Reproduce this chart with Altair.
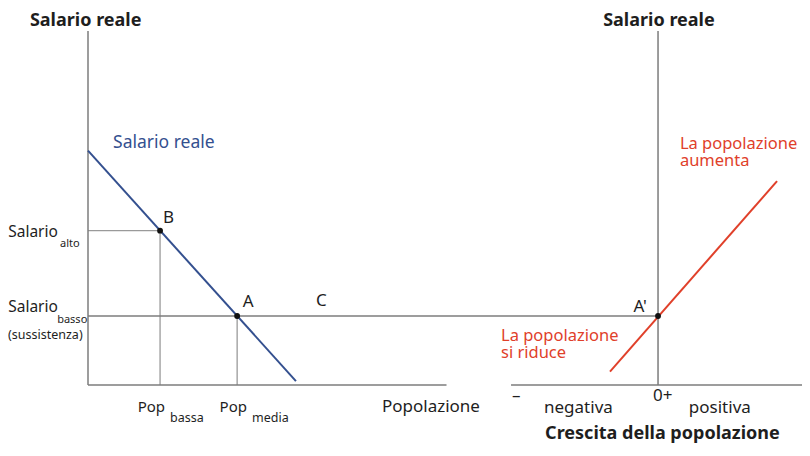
import altair as alt
import pandas as pd

# ---- conceptual units: x = population (left panel) / growth (right panel), y = real wage ----
pop_axis_end = 10.0
growth_origin = 15.9          # where zero growth sits on the shared x scale
growth_axis = [-4.1, 4.1]     # extent of growth axis
wage_axis_top = 10.0

pop_levels = [2.01, 4.16]     # Pop bassa, Pop media
wage_levels = [4.36, 1.95]    # Salario alto, Salario basso
wage_curve_pop = [0.0, 5.80]
wage_curve_wage = [6.62, 0.11]
growth_curve_growth = [-1.34, 3.32]
growth_curve_wage = [0.38, 5.76]

point_labels = ["B", "A"]

FONT = "Noto Sans"
AXIS_C = "#7c7c7c"
GUIDE_C = "#9a9a9a"
BLUE = "#34508f"
RED = "#e0402a"
TXT = "#1e1e1e"

X = alt.X("x:Q", scale=alt.Scale(domain=[0, 19.916], nice=False, zero=False), axis=None)
Y = alt.Y("y:Q", scale=alt.Scale(domain=[0, 10], nice=False, zero=False), axis=None)


def rules(rows, color, width):
    df = pd.DataFrame(rows, columns=["x", "x2", "y", "y2"])
    return alt.Chart(df).mark_rule(color=color, strokeWidth=width).encode(
        x=X, x2="x2:Q", y=Y, y2="y2:Q")


gx0 = growth_origin + growth_axis[0]
gx1 = growth_origin + growth_axis[1]

axes = rules([
    [0, 0, 0, wage_axis_top],
    [0, pop_axis_end, 0, 0],
    [gx0, gx1, 0, 0],
    [growth_origin, growth_origin, 0, wage_axis_top],
    [0, growth_origin, wage_levels[1], wage_levels[1]],
], AXIS_C, 1.5)

guides = rules([
    [0, pop_levels[0], wage_levels[0], wage_levels[0]],
    [pop_levels[0], pop_levels[0], 0, wage_levels[0]],
    [pop_levels[1], pop_levels[1], 0, wage_levels[1]],
], GUIDE_C, 1.3)

wage_df = pd.DataFrame({"x": wage_curve_pop, "y": wage_curve_wage})
wage_line = alt.Chart(wage_df).mark_line(color=BLUE, strokeWidth=2).encode(x=X, y=Y)

growth_df = pd.DataFrame({"g": growth_curve_growth, "y": growth_curve_wage})
growth_line = alt.Chart(growth_df).transform_calculate(
    x=f"datum.g + {growth_origin}").mark_line(color=RED, strokeWidth=2).encode(x=X, y=Y)

pts_df = pd.DataFrame({"x": pop_levels + [growth_origin],
                       "y": wage_levels + [wage_levels[1]]})
points = alt.Chart(pts_df).mark_circle(color="#111", size=34, opacity=1).encode(x=X, y=Y)


def texts(rows, size, color=TXT, align="left", weight="normal", **kw):
    df = pd.DataFrame(rows, columns=["label", "x", "y"])
    return alt.Chart(df).mark_text(
        align=align, baseline="alphabetic", font=FONT, fontSize=size,
        color=color, fontWeight=weight, **kw).encode(x=X, y=Y, text="label:N")


t_main = texts([
    [point_labels[0], 2.09, 4.576],
    [point_labels[1], 4.32, 2.203],
    ["C", 6.36, 2.232],
    ["Popolazione", 8.20, -0.763],
    ["negativa", 12.72, -0.791],
    ["positiva", 16.76, -0.791],
    ["–", 11.83, -0.452],
    ["0+", 15.76, -0.452],
], 17)
t_main_r = texts([["A'", 15.59, 2.062]], 17, align="right")
t_sal = texts([
    ["Salario", -0.84, 4.181],
    ["Salario", -0.84, 2.062],
], 15.5, align="right")
t_pop = texts([
    ["Pop", 2.15, -0.763],
    ["Pop", 4.435, -0.763],
], 15, align="right")
t_popsub = texts([
    ["bassa", 2.29, -1.045],
    ["media", 4.575, -1.045],
], 12.5)
t_wsub = texts([
    ["alto", -0.78, 3.898],
    ["basso", -0.86, 1.751],
], 11)
t_small = texts([["(sussistenza)", -2.23, 1.299]], 12.5)
t_bold = texts([
    ["Salario reale", -1.62, 10.141],
    ["Salario reale", 14.37, 10.141],
    ["Crescita della popolazione", 12.75, -1.525],
], 18, weight="bold")
t_blue = texts([["Salario reale", 0.70, 6.695]], 17.5, color=BLUE)
t_red = texts([
    ["La popolazione\naumenta", 16.51, 6.667],
    ["La popolazione\nsi riduce", 11.52, 1.243],
], 16.5, color=RED, lineBreak="\n", lineHeight=17.5)

chart = alt.layer(
    guides, axes, wage_line, growth_line, points,
    t_main, t_main_r, t_sal, t_pop, t_popsub, t_wsub, t_small, t_bold, t_blue, t_red
).properties(
    width=714, height=354,
    autosize=alt.AutoSizeParams(type="none"),
    padding={"left": 80, "top": 23, "right": 0, "bottom": 59},
).configure_view(stroke=None)

chart.save("out.html", embed_options={"renderer": "svg", "actions": False})
